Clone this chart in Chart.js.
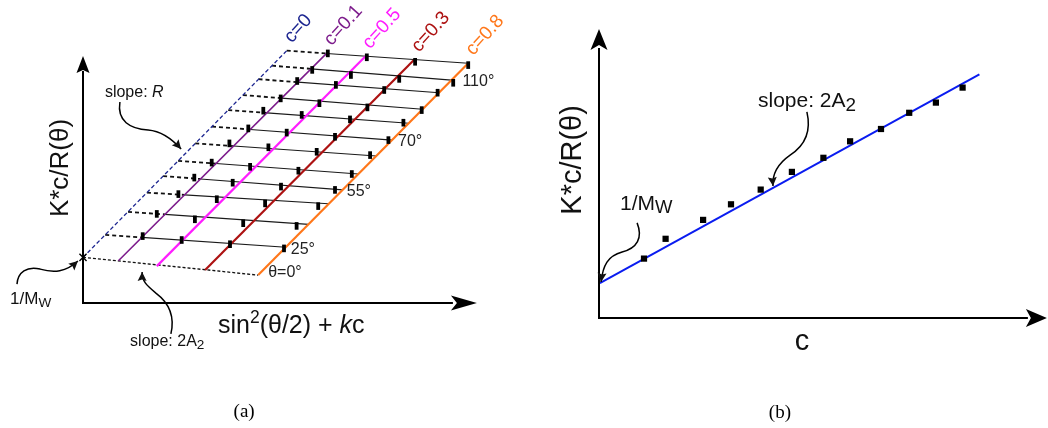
<!DOCTYPE html>
<html>
<head>
<meta charset="utf-8">
<script src="https://cdn.jsdelivr.net/npm/chart.js@4.4.1/dist/chart.umd.min.js"></script>
<style>
  html, body { margin: 0; padding: 0; background: #fff; }
  #wrap { position: relative; width: 1048px; height: 428px; overflow: hidden; }
  canvas { position: absolute; top: 0; }
  #zimm { left: 0; }
  #extrap { left: 524px; }
</style>
</head>
<body>
<div id="wrap">
  <canvas id="zimm" width="524" height="428"></canvas>
  <canvas id="extrap" width="524" height="428"></canvas>
</div>
<script>
'use strict';

const SANS = '"Liberation Sans", Arial, sans-serif';
const SERIF = '"Liberation Serif", "DejaVu Serif", serif';

// ===== panel (a): Zimm grid, x = sin^2(theta/2) + k*c, y = K*c/R(theta) =====

const concNames = ['c=0', 'c=0.1', 'c=0.5', 'c=0.3', 'c=0.8'];
const concColors = ['#1c2590', '#7d1c8c', '#ff1eff', '#ad1212', '#ff771a'];
// where each constant-c line meets theta = 0, and its top end
const concBottom = [[0.000, 0.152], [0.118, 0.141], [0.246, 0.123], [0.407, 0.110], [0.584, 0.093]];
const concTop = [[0.679, 0.841], [0.812, 0.832], [0.940, 0.821], [1.103, 0.810], [1.284, 0.799]];

// constant-angle lines, from the c = 0 line to the c = 0.8 line
const angleNames = ['θ=0°', '25°', '', '', '55°', '', '', '70°', '', '', '', '110°', ''];
const angleStart = [
  [0.000, 0.152], [0.074, 0.227], [0.150, 0.304], [0.213, 0.368], [0.267, 0.423],
  [0.317, 0.474], [0.374, 0.532], [0.430, 0.588], [0.484, 0.643], [0.533, 0.693],
  [0.585, 0.746], [0.630, 0.791], [0.679, 0.841]
];
const angleEnd = [
  [0.584, 0.093], [0.676, 0.186], [0.752, 0.262], [0.818, 0.331], [0.866, 0.377],
  [0.918, 0.430], [0.978, 0.490], [1.030, 0.543], [1.086, 0.599], [1.132, 0.646],
  [1.187, 0.701], [1.228, 0.743], [1.284, 0.799]
];

// measured points, one row per angle (25° upward), columns c=0.1, 0.5, 0.3, 0.8
const measX = [
  [0.199, 0.329, 0.490, 0.670], [0.246, 0.373, 0.534, 0.712], [0.318, 0.446, 0.607, 0.784],
  [0.371, 0.499, 0.660, 0.840], [0.429, 0.557, 0.718, 0.896], [0.488, 0.618, 0.779, 0.957],
  [0.551, 0.679, 0.840, 1.018], [0.601, 0.729, 0.890, 1.068], [0.659, 0.788, 0.948, 1.129],
  [0.714, 0.843, 1.004, 1.182], [0.764, 0.893, 1.054, 1.234], [0.816, 0.946, 1.107, 1.284]
];
const measY = [
  [0.223, 0.210, 0.196, 0.182], [0.297, 0.279, 0.266, 0.257], [0.363, 0.346, 0.332, 0.323],
  [0.418, 0.401, 0.388, 0.377], [0.468, 0.454, 0.441, 0.430], [0.532, 0.519, 0.504, 0.493],
  [0.582, 0.568, 0.554, 0.543], [0.641, 0.627, 0.612, 0.601], [0.682, 0.666, 0.652, 0.643],
  [0.740, 0.727, 0.710, 0.701], [0.777, 0.760, 0.747, 0.734], [0.832, 0.819, 0.804, 0.793]
];
const interceptA = [0.000, 0.152];   // 1/Mw

// ===== panel (b): K*c/R(theta) against c =====

const concB = [0.150, 0.222, 0.347, 0.440, 0.539, 0.643, 0.748, 0.837, 0.940, 1.034, 1.123, 1.212];
const kcrB = [0.198, 0.264, 0.327, 0.379, 0.428, 0.487, 0.534, 0.589, 0.630, 0.684, 0.718, 0.768];
const fitB = [[0.003, 0.116], [1.268, 0.812]];


// ---------- helpers ----------

const pt = p => ({ x: p[0], y: p[1] });

function meet(p1, p2, q1, q2) {
  const d1 = [p2[0] - p1[0], p2[1] - p1[1]];
  const d2 = [q2[0] - q1[0], q2[1] - q1[1]];
  const den = d1[0] * d2[1] - d1[1] * d2[0];
  const t = ((q1[0] - p1[0]) * d2[1] - (q1[1] - p1[1]) * d2[0]) / den;
  return [p1[0] + t * d1[0], p1[1] + t * d1[1]];
}

function lineSet(points, color, width, dash, order) {
  return {
    data: points.map(pt), showLine: true, borderColor: color, borderWidth: width,
    borderDash: dash || [], pointRadius: 0, clip: false, order: order
  };
}

// text made of runs: {t, it, scale, dy}
function drawRuns(ctx, runs, x, y, size, align) {
  const parts = runs.map(r => {
    const s = size * (r.scale || 1);
    const font = (r.it ? 'italic ' : '') + s.toFixed(1) + 'px ' + SANS;
    ctx.font = font;
    return { t: r.t, font, w: ctx.measureText(r.t).width, dy: (r.dy || 0) * size };
  });
  const total = parts.reduce((a, p) => a + p.w, 0);
  let cx = align === 'center' ? x - total / 2 : x;
  ctx.textAlign = 'left';
  ctx.textBaseline = 'alphabetic';
  parts.forEach(p => { ctx.font = p.font; ctx.fillText(p.t, cx, y + p.dy); cx += p.w; });
}

function arrowHead(ctx, from, tip, len, half, notch) {
  const a = Math.atan2(tip[1] - from[1], tip[0] - from[0]);
  ctx.save();
  ctx.translate(tip[0], tip[1]);
  ctx.rotate(a);
  ctx.beginPath();
  ctx.moveTo(0, 0);
  ctx.lineTo(-len, -half);
  ctx.lineTo(-len + notch, 0);
  ctx.lineTo(-len, half);
  ctx.closePath();
  ctx.fill();
  ctx.restore();
}

function toPx(chart, p) {
  return [chart.scales.x.getPixelForValue(p[0]), chart.scales.y.getPixelForValue(p[1])];
}

// bezier path given as start, then (c1, c2, end) triples
function curvedArrow(chart, pts) {
  const ctx = chart.ctx;
  const p = pts.map(q => toPx(chart, q));
  ctx.beginPath();
  ctx.moveTo(p[0][0], p[0][1]);
  for (let i = 1; i + 2 < p.length; i += 3) {
    ctx.bezierCurveTo(p[i][0], p[i][1], p[i + 1][0], p[i + 1][1], p[i + 2][0], p[i + 2][1]);
  }
  ctx.lineWidth = 1.5;
  ctx.strokeStyle = '#000';
  ctx.stroke();
  arrowHead(ctx, p[p.length - 2], p[p.length - 1], 9, 4.5, 1.5);
}

function drawAxes(chart, xTip, yTip, xHead, yHead) {
  const ctx = chart.ctx;
  const o = toPx(chart, [0, 0]);
  const xt = toPx(chart, [xTip, 0]);
  const yt = toPx(chart, [0, yTip]);
  ctx.save();
  ctx.strokeStyle = '#000';
  ctx.fillStyle = '#000';
  ctx.lineWidth = 2;
  ctx.beginPath();
  ctx.moveTo(xt[0] - xHead[0] + 2, o[1]);
  ctx.lineTo(o[0], o[1]);
  ctx.lineTo(o[0], yt[1] + yHead[0] - 2);
  ctx.stroke();
  arrowHead(ctx, [o[0], o[1]], xt, xHead[0], xHead[1], xHead[2]);
  arrowHead(ctx, [o[0], o[1]], yt, yHead[0], yHead[1], yHead[2]);
  ctx.restore();
}

function makeChart(id, datasets, xMax, yMax, padding, decor) {
  return new Chart(document.getElementById(id), {
    type: 'scatter',
    data: { datasets },
    options: {
      responsive: false,
      animation: false,
      events: [],
      layout: { padding },
      plugins: { legend: { display: false }, tooltip: { enabled: false } },
      scales: {
        x: { type: 'linear', min: 0, max: xMax, display: false },
        y: { type: 'linear', min: 0, max: yMax, display: false }
      }
    },
    plugins: [{ id: 'decor', afterDraw: decor }]
  });
}


// ---------- panel (a) ----------

const setsA = [];

angleStart.forEach((s, i) => {
  const e = angleEnd[i];
  if (i === 0) {
    setsA.push(lineSet([s, e], '#111', 1.3, [3, 2], 3));
    return;
  }
  // dashed extrapolation down to c = 0, solid through the data
  const m = meet(s, e, concBottom[1], concTop[1]);
  setsA.push(lineSet([s, m], '#111', 1.8, [4, 3], 3));
  setsA.push(lineSet([m, e], '#1a1a1a', 1.1, [], 3));
});

concBottom.forEach((b, j) => {
  const w = j === 0 ? 1.3 : j === 1 ? 1.6 : 2.2;
  setsA.push(lineSet([b, concTop[j]], concColors[j], w, j === 0 ? [4, 2.5] : [], 2));
});

const measPoints = [];
measX.forEach((row, i) => row.forEach((x, j) => measPoints.push({ x, y: measY[i][j] })));
setsA.push({
  data: measPoints, pointStyle: 'line', pointRotation: 90, pointRadius: 3.8,
  pointBorderWidth: 3.8, pointBorderColor: '#000', borderColor: '#000', clip: false, order: 0
});
setsA.push({
  data: [pt(interceptA)], pointStyle: 'crossRot', pointRadius: 5,
  pointBorderWidth: 1.4, pointBorderColor: '#000', clip: false, order: 0
});

makeChart('zimm', setsA, 1.3333, 0.85, { left: 83, top: 48, right: 41, bottom: 125 }, chart => {
  const ctx = chart.ctx;
  ctx.save();
  drawAxes(chart, 1.313, 0.823, [26, 7.5, 6], [17, 6.5, 3]);

  // c labels above the top of each line
  concTop.forEach((t, j) => {
    const p = toPx(chart, t);
    ctx.save();
    ctx.translate(p[0] + 5, p[1] - 7);
    ctx.rotate(-48 * Math.PI / 180);
    ctx.fillStyle = concColors[j];
    ctx.font = '19px ' + SANS;
    ctx.textAlign = 'left';
    ctx.textBaseline = 'alphabetic';
    ctx.fillText(concNames[j], 0, 0);
    ctx.restore();
  });

  // angle labels at the right end of their lines
  const shift = { 0: [10, 2], 1: [5, 7], 4: [4, 6], 7: [6, 6], 11: [11, 6] };
  ctx.fillStyle = '#222';
  angleNames.forEach((name, i) => {
    if (!name) return;
    const p = toPx(chart, angleEnd[i]);
    drawRuns(ctx, [{ t: name }], p[0] + shift[i][0], p[1] + shift[i][1], 16, 'left');
  });

  ctx.fillStyle = '#111';
  let p = toPx(chart, [0.073, 0.688]);
  drawRuns(ctx, [{ t: 'slope: ' }, { t: 'R', it: true }], p[0], p[1], 16, 'left');
  p = toPx(chart, [-0.243, -0.002]);
  drawRuns(ctx, [{ t: '1/M' }, { t: 'W', scale: 0.8, dy: 0.18 }], p[0], p[1], 17, 'left');
  p = toPx(chart, [0.157, -0.143]);
  drawRuns(ctx, [{ t: 'slope: 2A' }, { t: '2', scale: 0.85, dy: 0.22 }], p[0], p[1], 16, 'left');
  p = toPx(chart, [0.45, -0.1]);
  drawRuns(ctx, [{ t: 'sin' }, { t: '2', scale: 0.7, dy: -0.42 }, { t: '(θ/2) + ' },
    { t: 'k', it: true }, { t: 'c' }], p[0], p[1], 25, 'left');

  p = toPx(chart, [-0.05, 0.45]);
  ctx.save();
  ctx.translate(p[0], p[1]);
  ctx.rotate(-Math.PI / 2);
  drawRuns(ctx, [{ t: 'K*c/R(θ)' }], 0, 0, 26, 'center');
  ctx.restore();

  curvedArrow(chart, [[0.123, 0.67], [0.113, 0.607], [0.157, 0.58], [0.217, 0.577],
    [0.263, 0.573], [0.297, 0.547], [0.327, 0.513]]);
  curvedArrow(chart, [[0.293, -0.103], [0.307, -0.043], [0.283, 0.003], [0.243, 0.033],
    [0.21, 0.06], [0.197, 0.073], [0.197, 0.103]]);
  curvedArrow(chart, [[-0.22, 0.063], [-0.217, 0.103], [-0.187, 0.123], [-0.143, 0.113],
    [-0.097, 0.1], [-0.057, 0.103], [-0.017, 0.14]]);

  p = toPx(chart, [0.537, -0.38]);
  ctx.font = '19px ' + SERIF;
  ctx.textAlign = 'center';
  ctx.fillStyle = '#000';
  ctx.fillText('(a)', p[0], p[1]);
  ctx.restore();
});


// ---------- panel (b) ----------

const setsB = [
  lineSet(fitB, '#0a1cf0', 2, [], 1),
  {
    data: concB.map((c, i) => ({ x: c, y: kcrB[i] })), pointStyle: 'rect', pointRadius: 4.4,
    pointBorderWidth: 0, pointBackgroundColor: '#000', clip: false, order: 0
  }
];

makeChart('extrap', setsB, 1.48, 0.96, { left: 75, top: 30, right: 5, bottom: 110 }, chart => {
  const ctx = chart.ctx;
  ctx.save();
  drawAxes(chart, 1.493, 0.963, [21, 9, 5], [21, 8.5, 5]);

  ctx.fillStyle = '#111';
  let p = toPx(chart, [0.53, 0.702]);
  drawRuns(ctx, [{ t: 'slope: 2A' }, { t: '2', scale: 0.9, dy: 0.17 }], p[0], p[1], 21, 'left');
  p = toPx(chart, [0.07, 0.36]);
  drawRuns(ctx, [{ t: '1/M' }, { t: 'W', scale: 0.88, dy: 0.16 }], p[0], p[1], 21, 'left');
  p = toPx(chart, [0.677, -0.107]);
  drawRuns(ctx, [{ t: 'c' }], p[0], p[1], 29, 'center');

  p = toPx(chart, [-0.06, 0.527]);
  ctx.save();
  ctx.translate(p[0], p[1]);
  ctx.rotate(-Math.PI / 2);
  drawRuns(ctx, [{ t: 'K*c/R(θ)' }], 0, 0, 29, 'center');
  ctx.restore();

  curvedArrow(chart, [[0.693, 0.687], [0.707, 0.627], [0.69, 0.577], [0.637, 0.543],
    [0.59, 0.51], [0.577, 0.477], [0.58, 0.44]]);
  curvedArrow(chart, [[0.127, 0.317], [0.147, 0.267], [0.127, 0.233], [0.077, 0.22],
    [0.03, 0.207], [0.013, 0.177], [0.007, 0.12]]);

  p = toPx(chart, [0.603, -0.333]);
  ctx.font = '19px ' + SERIF;
  ctx.textAlign = 'center';
  ctx.fillStyle = '#000';
  ctx.fillText('(b)', p[0], p[1]);
  ctx.restore();
});
</script>
</body>
</html>
